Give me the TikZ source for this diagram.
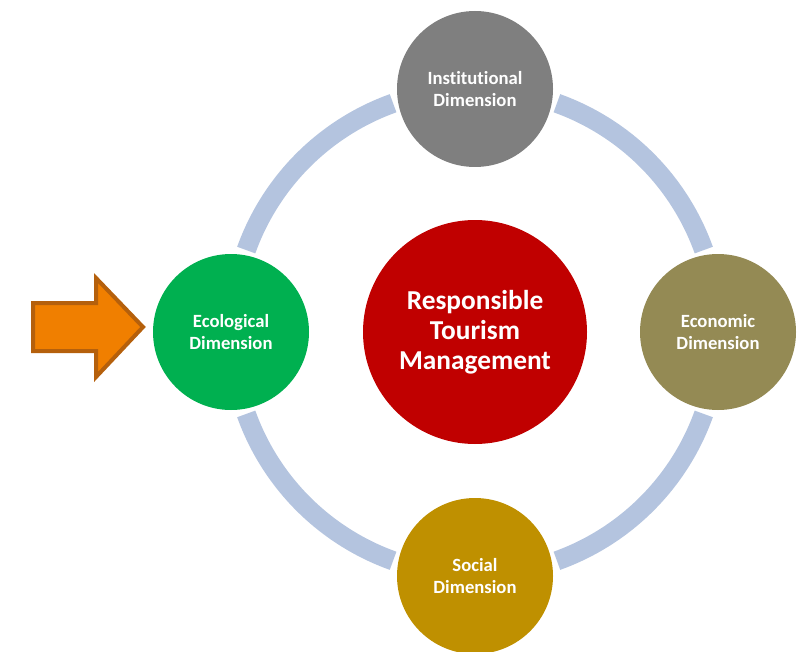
\documentclass[tikz,border=0pt]{standalone}
\usepackage{fontspec}
\setmainfont[RawFeature=-liga]{Carlito}
\definecolor{ringc}{HTML}{B4C4DF}
\definecolor{instc}{HTML}{7F7F7F}
\definecolor{ecoc}{HTML}{00B050}
\definecolor{econc}{HTML}{948A54}
\definecolor{socc}{HTML}{BF9000}
\definecolor{redc}{HTML}{C00000}
\definecolor{arrfill}{HTML}{F07F00}
\definecolor{arrdraw}{HTML}{B5600C}
\begin{document}
\begin{tikzpicture}[x=0.75pt,y=0.75pt,
  dim/.style={circle,minimum size=117pt,inner sep=0pt,text=white,font=\bfseries\fontsize{14}{16.5}\selectfont,align=center},
  ringarc/.style={draw=ringc,line width=14.5pt}]
\useasboundingbox (0,0) rectangle (799,651);
\node[circle,minimum size=168pt,inner sep=0pt,fill=redc,text=white,align=center,font=\bfseries\fontsize{20.5}{22.5}\selectfont] (c) at (475,319) {Responsible\\Tourism\\Management};
\draw[ringarc] (c.center) ++(109.7:182.25pt) arc[start angle=109.7,end angle=160.3,radius=182.25pt];
\draw[ringarc] (c.center) ++(199.7:182.25pt) arc[start angle=199.7,end angle=250.3,radius=182.25pt];
\draw[ringarc] (c.center) ++(289.7:182.25pt) arc[start angle=289.7,end angle=340.3,radius=182.25pt];
\draw[ringarc] (c.center) ++(19.7:182.25pt) arc[start angle=19.7,end angle=70.3,radius=182.25pt];
\node[dim,fill=instc] (inst) at (475,562) {Institutional\\Dimension};
\node[dim,fill=ecoc] (eco) at (231,319) {Ecological\\Dimension};
\node[dim,fill=econc] (econ) at (718,319) {Economic\\Dimension};
\node[dim,fill=socc] (soc) at (475,75) {Social\\Dimension};
\draw[fill=arrfill,draw=arrdraw,line width=3pt,line join=miter]
  (33,348) -- (96,348) -- (96,373) -- (143,324) -- (96,274) -- (96,300) -- (33,300) -- cycle;
\end{tikzpicture}
\end{document}
